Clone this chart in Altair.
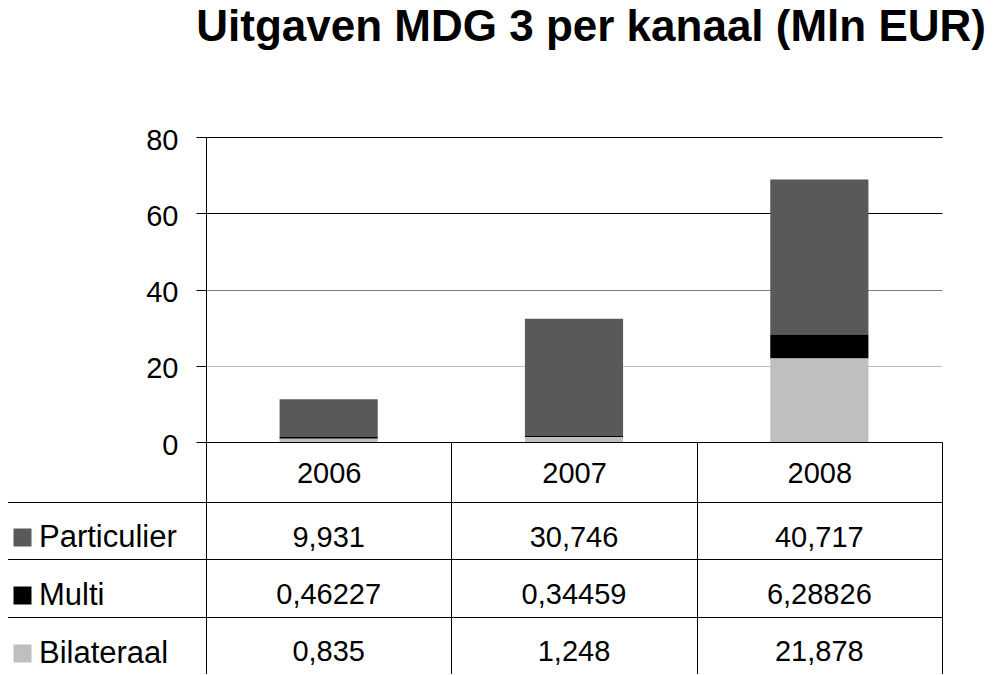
import altair as alt
import pandas as pd

# ---- data ----
years = ["2006", "2007", "2008"]
series = ["Particulier", "Multi", "Bilateraal"]
particulier = [9.931, 30.746, 40.717]
multi = [0.46227, 0.34459, 6.28826]
bilateraal = [0.835, 1.248, 21.878]
colors = ["#595959", "#000000", "#bfbfbf"]
y_ticks = [0, 20, 40, 60, 80]
chart_title = "Uitgaven MDG 3 per kanaal (Mln EUR)"

values = {"Particulier": particulier, "Multi": multi, "Bilateraal": bilateraal}
stack_rank = {"Bilateraal": 0, "Multi": 1, "Particulier": 2}
records = []
for s in series:
    for yr, v in zip(years, values[s]):
        records.append({
            "year": yr,
            "series": s,
            "value": v,
            "label": str(v).replace(".", ","),
            "rank": stack_rank[s],
        })
df = pd.DataFrame(records)
rows_df = pd.DataFrame({"series": series})

# ---- layout ----
FONT = "Liberation Sans"
W, H = 736, 537          # whole plot area: bars + data table
BAR_H = 305              # height of the bar panel
HEAD = 60                # header row of the table
LEFT_COL = 204           # width of the label column of the table

x_axis = alt.Axis(
    orient="top", offset=-H, tickBand="extent", tickSize=H - BAR_H,
    tickColor="black", tickWidth=1, domainColor="black", domainWidth=1,
    labelFontSize=29, labelFont=FONT, labelColor="black",
    labelPadding=-31, labelBaseline="middle", labelAngle=0, grid=False,
    minExtent=0, maxExtent=0,
)
x_enc = alt.X("year:N", sort=years, title=None,
              scale=alt.Scale(domain=years, paddingInner=0, paddingOuter=0),
              axis=x_axis)

grid_color = {
    "condition": [
        {"test": "datum.value === 20", "value": "#c0c0c0"},
        {"test": "datum.value === 40", "value": "#808080"},
    ],
    "value": "black",
}

bars = alt.Chart(df).mark_bar(width=alt.RelativeBandSize(0.4)).encode(
    x=x_enc,
    y=alt.Y("value:Q", stack="zero", title=None,
            scale=alt.Scale(domain=[0, 80], range=[BAR_H, 0], nice=False),
            axis=alt.Axis(orient="left", values=y_ticks, tickSize=10,
                          tickColor="black", domainColor="black",
                          grid=True, gridColor=grid_color, gridWidth=1,
                          labelFontSize=29, labelFont=FONT, labelColor="black",
                          labelPadding=18, labelOffset=3)),
    color=alt.Color("series:N",
                    scale=alt.Scale(domain=series, range=colors),
                    legend=alt.Legend(title=None, orient="none",
                                      legendX=-199, legendY=385,
                                      symbolType="square", symbolSize=324,
                                      symbolStrokeWidth=0, symbolOpacity=1,
                                      labelFontSize=31, labelFont=FONT,
                                      labelColor="black", rowPadding=26,
                                      labelOffset=1, padding=0)),
    order=alt.Order("rank:Q", sort="ascending"),
)

row_scale = alt.Scale(domain=series, range=[BAR_H + HEAD, H],
                      paddingInner=0, paddingOuter=0)

table = alt.Chart(df).mark_text(fontSize=29, font=FONT, color="black",
                                baseline="middle", dy=7).encode(
    x=x_enc,
    y=alt.Y("series:N", sort=series, title=None, scale=row_scale,
            axis=alt.Axis(orient="left", tickBand="extent", tickSize=LEFT_COL,
                          tickColor="black", domainColor="black",
                          grid=True, gridColor="black", labels=False)),
    text="label:N",
)

border = alt.Chart(rows_df).mark_point(opacity=0).encode(
    y=alt.Y("series:N", sort=series, title=None, scale=row_scale,
            axis=alt.Axis(orient="left", offset=LEFT_COL, ticks=False,
                          labels=False, grid=False, domainColor="black")),
)

chart = alt.layer(bars, table, border).resolve_scale(y="independent").properties(
    width=W, height=H,
    autosize=alt.AutoSizeParams(type="none"),
    padding={"left": 198, "top": 129, "right": 50, "bottom": 0},
    title=alt.TitleParams(chart_title, font=FONT, fontSize=44, fontWeight="bold",
                          color="black", anchor="end", frame="group", dx=44,
                          baseline="alphabetic", offset=41),
).configure_view(stroke=None)

chart.save("out.html", embed_options={"renderer": "svg", "actions": False})
